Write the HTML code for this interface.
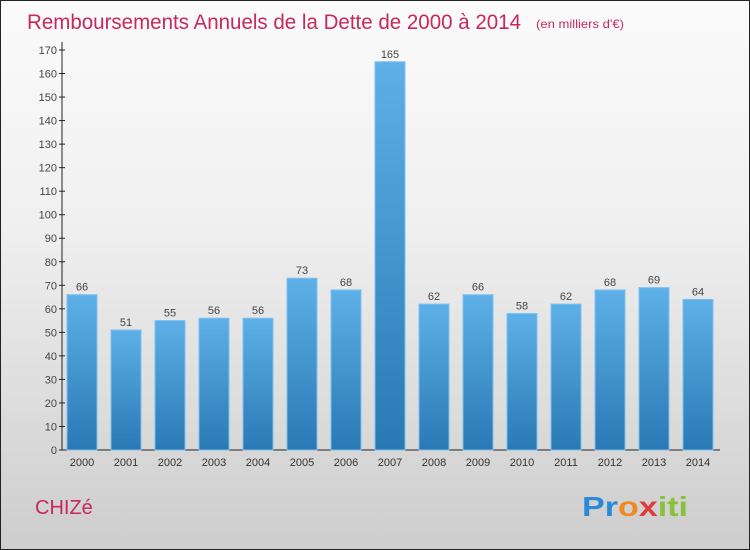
<!DOCTYPE html>
<html><head><meta charset="utf-8"><style>
body{margin:0;width:750px;height:550px;overflow:hidden;font-family:"Liberation Sans",sans-serif}
#wrap{position:absolute;left:0;top:0;width:748px;height:548px;border:1px solid #222;background:linear-gradient(#fbfbfb,#f0f0f0 40%,#cdcdcd)}
</style></head><body>
<div id="wrap">
<svg width="750" height="550" style="position:absolute;left:-1px;top:-1px" id="svg">
<defs><linearGradient id="bg" x1="0" y1="0" x2="0" y2="1"><stop offset="0" stop-color="#5eb0e8"/><stop offset="1" stop-color="#2a78b4"/></linearGradient></defs>
<text x="27" y="29" font-size="21" fill="#c8285a" textLength="494" lengthAdjust="spacingAndGlyphs">Remboursements Annuels de la Dette de 2000 à 2014</text>
<text x="536" y="28" font-size="12" fill="#c8285a" textLength="88" lengthAdjust="spacingAndGlyphs">(en milliers d'€)</text>
<text x="35" y="514" font-size="20" fill="#c8285a">CHIZé</text>
<text x="582" y="516" font-size="28" font-weight="bold" textLength="106" lengthAdjust="spacingAndGlyphs"><tspan fill="#2a8ad8">Pr</tspan><tspan fill="#f08a1e">o</tspan><tspan fill="#e03a3a">x</tspan><tspan fill="#8ac03a">iti</tspan></text>
<g id="plot"></g>
</svg></div>
<script>
const years=["2000","2001","2002","2003","2004","2005","2006","2007","2008","2009","2010","2011","2012","2013","2014"];
const values=[66,51,55,56,56,73,68,165,62,66,58,62,68,69,64];
const ticks=[0,10,20,30,40,50,60,70,80,90,100,110,120,130,140,150,160,170];
const NS="http://www.w3.org/2000/svg",g=document.getElementById('plot');
const y=v=>450-v*400/170, x=i=>82+i*44;
function mk(t,a,txt){const e=document.createElementNS(NS,t);for(const k in a)e.setAttribute(k,a[k]);if(txt!==undefined)e.textContent=txt;g.appendChild(e);return e;}
let ax=mk('line',{x1:62,y1:42,x2:62,y2:450,stroke:'#222'});


let bx=mk('line',{x1:62,y1:450,x2:720,y2:450,stroke:'#222'});


ticks.forEach(t=>{
 let l=mk('line',{x1:59,y1:y(t),x2:65,y2:y(t),stroke:'#222'});
 
 
 let e=mk('text',{x:57,y:y(t)+4,'font-size':11,'text-anchor':'end',fill:'#444'},t);
 
 
});
years.forEach((yr,i)=>{
 let r=mk('rect',{x:x(i)-15,y:y(values[i]),width:30,height:450-y(values[i]),fill:'url(#bg)',stroke:'#7cc0f0','stroke-width':1});
 
 
 let v=mk('text',{x:x(i),y:y(values[i])-4,'font-size':11,'text-anchor':'middle',fill:'#444'},values[i]);
 
 
 let l=mk('text',{x:x(i),y:466,'font-size':11,'text-anchor':'middle',fill:'#333'},yr);
 
 
});
</script>
</body></html>
